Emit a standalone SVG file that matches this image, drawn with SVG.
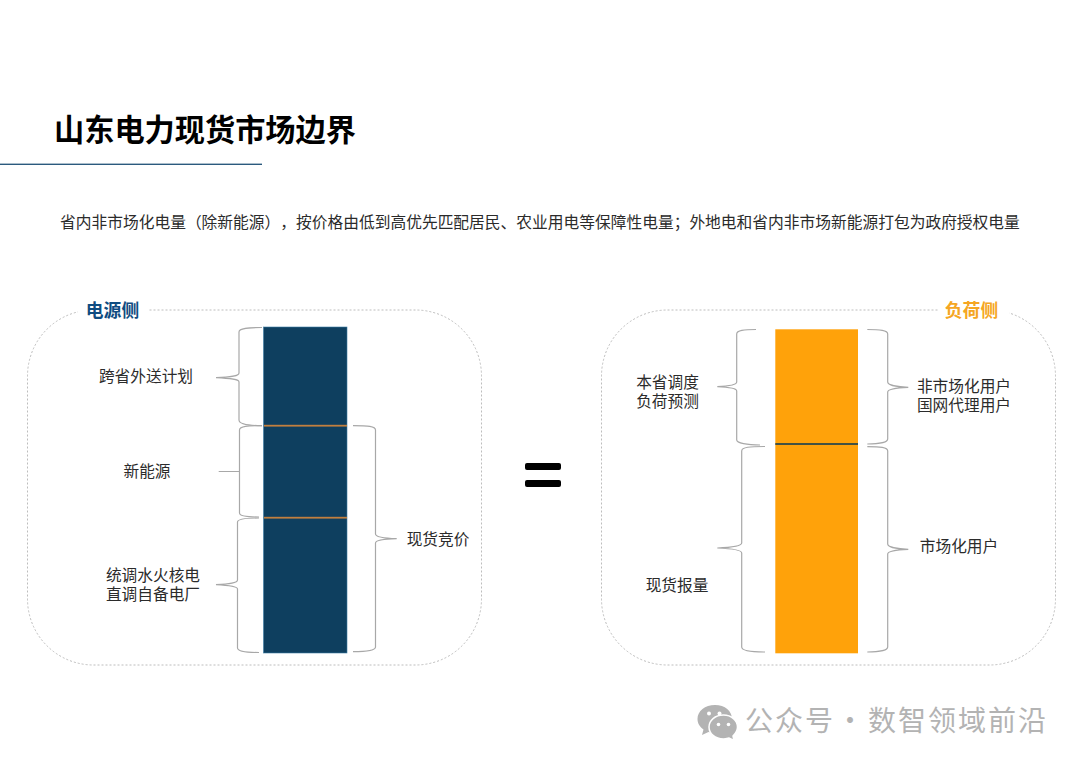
<svg xmlns="http://www.w3.org/2000/svg" width="1080" height="764" viewBox="0 0 1080 764">
<style>
text{font-family:"Noto Sans CJK SC","Noto Sans",sans-serif;text-spacing-trim:space-all;font-feature-settings:"palt" 0}
.lb{font-size:15.7px;fill:#2b2b2b;text-anchor:middle;dominant-baseline:central}
.hd{font-size:17.8px;font-weight:700;text-anchor:middle;dominant-baseline:central}
.panel{fill:#fff;stroke:#bdbdbd;stroke-width:1;stroke-dasharray:2 2}
.br{fill:none;stroke:#a8a8a8;stroke-width:1.2}
.gap{fill:#fff}
.wm{font-size:28px;fill:#b3b3b3;dominant-baseline:central}
</style>
<rect width="1080" height="764" fill="#fff"/>
<g id="title">
<text x="54" y="128" font-size="30.2" font-weight="700" fill="#000" dominant-baseline="central">山东电力现货市场边界</text>
<rect x="0" y="163.6" width="262" height="1.4" fill="#2b5a7e"/>
</g>
<g id="subtitle">
<text x="60" y="221.5" font-size="15.74" fill="#2b2b2b" dominant-baseline="central">省内非市场化电量（除新能源），按价格由低到高优先匹配居民、农业用电等保障性电量；外地电和省内非市场新能源打包为政府授权电量</text>
</g>
<g id="supply-side">
<rect class="panel" x="27.5" y="310" width="454" height="355" rx="66"/>
<rect class="gap" x="78" y="302" width="70" height="18"/>
<text class="hd" x="112.500" y="309" fill="#0f4c81">电源侧</text>
<rect x="263.500" y="327" width="83.500" height="326" fill="#0e3f5f" stroke="#3d7ea6" stroke-width=".6"/>
<rect x="264" y="424.800" width="83" height="1.800" fill="#c07f3f"/>
<rect x="264" y="516.800" width="83" height="1.800" fill="#c07f3f"/>
<text class="lb" x="146" y="375">跨省外送计划</text>
<text class="lb" x="147" y="470">新能源</text>
<text class="lb" x="153" y="574">统调水火核电</text>
<text class="lb" x="153" y="593">直调自备电厂</text>
<text class="lb" x="438" y="538">现货竞价</text>
</g>
<g id="equals">
<rect x="525" y="463" width="36" height="7" rx="2" fill="#000"/>
<rect x="525" y="480" width="36" height="7" rx="2" fill="#000"/>
</g>
<g id="demand-side">
<rect class="panel" x="601.500" y="310" width="454" height="355" rx="66"/>
<rect class="gap" x="938" y="302" width="71" height="18"/>
<text class="hd" x="971.500" y="308.500" fill="#f5a623">负荷侧</text>
<rect x="775.300" y="329.300" width="82.700" height="324" fill="#ffa20a"/>
<rect x="775.300" y="443.100" width="82.700" height="1.800" fill="#2f4a4a"/>
<text class="lb" x="667.500" y="381">本省调度</text>
<text class="lb" x="667.500" y="400">负荷预测</text>
<text class="lb" x="677" y="584">现货报量</text>
<text class="lb" x="964" y="385.500">非市场化用户</text>
<text class="lb" x="964" y="404">国网代理用户</text>
<text class="lb" x="959" y="545">市场化用户</text>
</g>
<g id="connectors">
<path class="br" d="M262 327.500C248 327.500 239 328 239 332V373C239 376 232 377 216 377.700C232 378.500 239 379.500 239 382V420C239 424 248 425.600 262 425.600"/>
<path class="br" d="M262 425.600C248 425.600 239.500 426 239.500 430V471.500H218.700M239.500 471.500V513C239.500 516 248 517 259 517"/>
<path class="br" d="M259 518C245 518 237.500 519 237.500 522V580C237.500 583 230 584 216 584.700C230 585.500 237.500 586.500 237.500 589V648C237.500 651 245 652.500 259 652.500"/>
<path class="br" d="M353 425.600C368 425.600 375.500 426 375.500 430V534C375.500 537 385 538.300 396.700 538.700C385 539 375.500 540.500 375.500 543V647C375.500 650 368 651.700 353 651.700"/>
<path class="br" d="M756 329.500C744 329.500 736.700 330 736.700 334V382C736.700 385 728 386.200 717.300 386.700C728 387.200 736.700 388.500 736.700 391V440C736.700 443 747 445 760 445"/>
<path class="br" d="M765 446.500C750 446.500 741.700 447 741.700 451V543C741.700 546 730 547.500 717.300 548C730 548.500 741.700 550 741.700 553V647C741.700 650 750 652 765 652"/>
<path class="br" d="M867.300 329.500C880 329.500 887.700 330 887.700 334V382C887.700 385 897 387 908.300 387.300C897 387.700 887.700 389 887.700 392V439C887.700 442 880 444 867.300 444"/>
<path class="br" d="M867.300 446.700C880 446.700 887.700 447 887.700 451V544C887.700 547 897 549 908.300 549.300C897 549.700 887.700 551 887.700 554V647C887.700 650 880 652 867.300 652"/>
</g>
<g id="watermark">
<path d="M715 705C705 705 697.500 711 697.500 719C697.500 723.500 700 727 703.500 729.500L702 735L708.500 732C710.500 732.500 712.500 733 715 733C725 733 732 726.500 732 719C732 711 725 705 715 705Z" fill="#b3b3b3"/>
<path d="M723.500 715C715 715 709 720.500 709 727C709 733.500 715 739 723.500 739C725.500 739 727 738.500 729 738L734 740.500L733 736C735.500 733.500 737.500 730.500 737.500 727C737.500 720.500 731.500 715 723.500 715Z" fill="#b3b3b3" stroke="#fff" stroke-width="1.500"/>
<circle cx="709" cy="713.500" r="2" fill="#fff"/><circle cx="719.500" cy="713.500" r="2" fill="#fff"/>
<circle cx="718.500" cy="724.500" r="1.800" fill="#fff"/><circle cx="728.500" cy="724.500" r="1.800" fill="#fff"/>
<text class="wm" x="745" y="719" letter-spacing="2">公众号</text>
<text class="wm" x="850" y="719" text-anchor="middle">·</text>
<text class="wm" x="868" y="719" letter-spacing="2">数智领域前沿</text>
</g>
</svg>
